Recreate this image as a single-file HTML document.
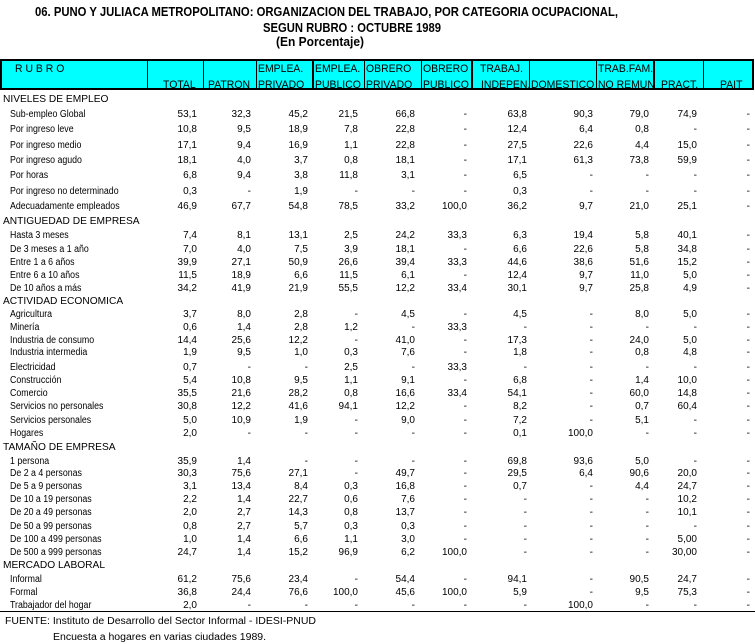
<!DOCTYPE html>
<html><head><meta charset="utf-8">
<style>
body{margin:0;background:#fff;width:755px;height:643px;position:relative;overflow:hidden;font-family:"Liberation Sans",sans-serif;color:#000}
svg.t{position:absolute;left:0;top:0}
#hd{position:absolute;left:0;top:59px;width:753px;height:31px;background:#00ffff;border-top:2px solid #000;border-bottom:2px solid #000;border-left:2px solid #000;box-sizing:border-box}
.vl{position:absolute;top:59px;height:31px;width:1px;background:#000}
.h{position:absolute;font-size:11px;line-height:12px;white-space:nowrap;transform:scaleX(.95);transform-origin:left}
.r{position:absolute;left:0;width:755px;height:12px;line-height:12px;font-size:10px}
.r b{position:absolute;top:0;left:10px;font-weight:normal;white-space:nowrap;transform:scaleX(.88);transform-origin:left}
.s{position:absolute;left:3px;font-size:10px;line-height:12px;white-space:nowrap;transform:scaleX(1.02);transform-origin:left}
.r i{position:absolute;top:0;font-style:normal;width:60px;text-align:right;font-size:10px}
.r i:nth-of-type(1){left:137px}.r i:nth-of-type(2){left:191px}.r i:nth-of-type(3){left:248px}
.r i:nth-of-type(4){left:298px}.r i:nth-of-type(5){left:355px}.r i:nth-of-type(6){left:407px}
.r i:nth-of-type(7){left:467px}.r i:nth-of-type(8){left:533px}.r i:nth-of-type(9){left:589px}
.r i:nth-of-type(10){left:637px}.r i:nth-of-type(11){left:690px}
.f{position:absolute;font-size:10px;line-height:12px;white-space:nowrap;transform:scaleX(1.05);transform-origin:left}
</style></head><body>
<svg class="t" width="755" height="56" font-family="Liberation Sans, sans-serif" font-weight="bold" font-size="13">
<text x="35" y="16" textLength="583" lengthAdjust="spacingAndGlyphs">06. PUNO Y JULIACA METROPOLITANO: ORGANIZACION DEL TRABAJO, POR CATEGORIA OCUPACIONAL,</text>
<text x="263" y="32" textLength="178" lengthAdjust="spacingAndGlyphs">SEGUN RUBRO : OCTUBRE 1989</text>
<text x="276" y="46" textLength="88" lengthAdjust="spacingAndGlyphs">(En Porcentaje)</text>
</svg>

<div id="hd"></div>
<div class="vl" style="left:147px"></div><div class="vl" style="left:203px"></div><div class="vl" style="left:256px"></div>
<div class="vl" style="left:312px;width:2px"></div><div class="vl" style="left:364px"></div><div class="vl" style="left:421px"></div>
<div class="vl" style="left:471px;width:2px"></div><div class="vl" style="left:529px"></div><div class="vl" style="left:596px"></div>
<div class="vl" style="left:653px;width:2px"></div><div class="vl" style="left:703px"></div><div class="vl" style="left:752px;width:2px"></div>

<div class="h" style="left:15px;top:63px">R U B R O</div>
<div class="h" style="left:163px;top:79px">TOTAL</div>
<div class="h" style="left:208px;top:79px">PATRON</div>
<div class="h" style="left:258px;top:63px">EMPLEA.</div><div class="h" style="left:258px;top:79px">PRIVADO</div>
<div class="h" style="left:315px;top:63px">EMPLEA.</div><div class="h" style="left:315px;top:79px">PUBLICO</div>
<div class="h" style="left:366px;top:63px">OBRERO</div><div class="h" style="left:366px;top:79px">PRIVADO</div>
<div class="h" style="left:423px;top:63px">OBRERO</div><div class="h" style="left:423px;top:79px">PUBLICO</div>
<div class="h" style="left:480px;top:63px">TRABAJ.</div><div class="h" style="left:481px;top:79px">INDEPEN.</div>
<div class="h" style="left:531px;top:79px">DOMESTICO</div>
<div class="h" style="left:598px;top:63px">TRAB.FAM.</div><div class="h" style="left:598px;top:79px">NO REMUN</div>
<div class="h" style="left:661px;top:79px">PRACT.</div>
<div class="h" style="left:720px;top:79px">PAIT</div>

<div class="s" style="top:94px">NIVELES DE EMPLEO</div>
<div class="r" style="top:109px"><b>Sub-empleo Global</b><i>53,1</i><i>32,3</i><i>45,2</i><i>21,5</i><i>66,8</i><i>-</i><i>63,8</i><i>90,3</i><i>79,0</i><i>74,9</i><i>-</i></div>
<div class="r" style="top:124px"><b>Por ingreso leve</b><i>10,8</i><i>9,5</i><i>18,9</i><i>7,8</i><i>22,8</i><i>-</i><i>12,4</i><i>6,4</i><i>0,8</i><i>-</i><i>-</i></div>
<div class="r" style="top:140px"><b>Por ingreso medio</b><i>17,1</i><i>9,4</i><i>16,9</i><i>1,1</i><i>22,8</i><i>-</i><i>27,5</i><i>22,6</i><i>4,4</i><i>15,0</i><i>-</i></div>
<div class="r" style="top:155px"><b>Por ingreso agudo</b><i>18,1</i><i>4,0</i><i>3,7</i><i>0,8</i><i>18,1</i><i>-</i><i>17,1</i><i>61,3</i><i>73,8</i><i>59,9</i><i>-</i></div>
<div class="r" style="top:170px"><b>Por horas</b><i>6,8</i><i>9,4</i><i>3,8</i><i>11,8</i><i>3,1</i><i>-</i><i>6,5</i><i>-</i><i>-</i><i>-</i><i>-</i></div>
<div class="r" style="top:186px"><b>Por ingreso no determinado</b><i>0,3</i><i>-</i><i>1,9</i><i>-</i><i>-</i><i>-</i><i>0,3</i><i>-</i><i>-</i><i>-</i><i>-</i></div>
<div class="r" style="top:201px"><b>Adecuadamente empleados</b><i>46,9</i><i>67,7</i><i>54,8</i><i>78,5</i><i>33,2</i><i>100,0</i><i>36,2</i><i>9,7</i><i>21,0</i><i>25,1</i><i>-</i></div>
<div class="s" style="top:216px">ANTIGUEDAD DE EMPRESA</div>
<div class="r" style="top:230px"><b>Hasta 3 meses</b><i>7,4</i><i>8,1</i><i>13,1</i><i>2,5</i><i>24,2</i><i>33,3</i><i>6,3</i><i>19,4</i><i>5,8</i><i>40,1</i><i>-</i></div>
<div class="r" style="top:244px"><b>De 3 meses a 1 año</b><i>7,0</i><i>4,0</i><i>7,5</i><i>3,9</i><i>18,1</i><i>-</i><i>6,6</i><i>22,6</i><i>5,8</i><i>34,8</i><i>-</i></div>
<div class="r" style="top:257px"><b>Entre 1 a 6 años</b><i>39,9</i><i>27,1</i><i>50,9</i><i>26,6</i><i>39,4</i><i>33,3</i><i>44,6</i><i>38,6</i><i>51,6</i><i>15,2</i><i>-</i></div>
<div class="r" style="top:270px"><b>Entre 6 a 10 años</b><i>11,5</i><i>18,9</i><i>6,6</i><i>11,5</i><i>6,1</i><i>-</i><i>12,4</i><i>9,7</i><i>11,0</i><i>5,0</i><i>-</i></div>
<div class="r" style="top:283px"><b>De 10 años a más</b><i>34,2</i><i>41,9</i><i>21,9</i><i>55,5</i><i>12,2</i><i>33,4</i><i>30,1</i><i>9,7</i><i>25,8</i><i>4,9</i><i>-</i></div>
<div class="s" style="top:296px">ACTIVIDAD ECONOMICA</div>
<div class="r" style="top:309px"><b>Agricultura</b><i>3,7</i><i>8,0</i><i>2,8</i><i>-</i><i>4,5</i><i>-</i><i>4,5</i><i>-</i><i>8,0</i><i>5,0</i><i>-</i></div>
<div class="r" style="top:322px"><b>Minería</b><i>0,6</i><i>1,4</i><i>2,8</i><i>1,2</i><i>-</i><i>33,3</i><i>-</i><i>-</i><i>-</i><i>-</i><i>-</i></div>
<div class="r" style="top:335px"><b>Industria de consumo</b><i>14,4</i><i>25,6</i><i>12,2</i><i>-</i><i>41,0</i><i>-</i><i>17,3</i><i>-</i><i>24,0</i><i>5,0</i><i>-</i></div>
<div class="r" style="top:347px"><b>Industria intermedia</b><i>1,9</i><i>9,5</i><i>1,0</i><i>0,3</i><i>7,6</i><i>-</i><i>1,8</i><i>-</i><i>0,8</i><i>4,8</i><i>-</i></div>
<div class="r" style="top:362px"><b>Electricidad</b><i>0,7</i><i>-</i><i>-</i><i>2,5</i><i>-</i><i>33,3</i><i>-</i><i>-</i><i>-</i><i>-</i><i>-</i></div>
<div class="r" style="top:375px"><b>Construcción</b><i>5,4</i><i>10,8</i><i>9,5</i><i>1,1</i><i>9,1</i><i>-</i><i>6,8</i><i>-</i><i>1,4</i><i>10,0</i><i>-</i></div>
<div class="r" style="top:388px"><b>Comercio</b><i>35,5</i><i>21,6</i><i>28,2</i><i>0,8</i><i>16,6</i><i>33,4</i><i>54,1</i><i>-</i><i>60,0</i><i>14,8</i><i>-</i></div>
<div class="r" style="top:401px"><b>Servicios no personales</b><i>30,8</i><i>12,2</i><i>41,6</i><i>94,1</i><i>12,2</i><i>-</i><i>8,2</i><i>-</i><i>0,7</i><i>60,4</i><i>-</i></div>
<div class="r" style="top:415px"><b>Servicios personales</b><i>5,0</i><i>10,9</i><i>1,9</i><i>-</i><i>9,0</i><i>-</i><i>7,2</i><i>-</i><i>5,1</i><i>-</i><i>-</i></div>
<div class="r" style="top:428px"><b>Hogares</b><i>2,0</i><i>-</i><i>-</i><i>-</i><i>-</i><i>-</i><i>0,1</i><i>100,0</i><i>-</i><i>-</i><i>-</i></div>
<div class="s" style="top:442px">TAMAÑO DE EMPRESA</div>
<div class="r" style="top:456px"><b>1 persona</b><i>35,9</i><i>1,4</i><i>-</i><i>-</i><i>-</i><i>-</i><i>69,8</i><i>93,6</i><i>5,0</i><i>-</i><i>-</i></div>
<div class="r" style="top:468px"><b>De 2 a 4 personas</b><i>30,3</i><i>75,6</i><i>27,1</i><i>-</i><i>49,7</i><i>-</i><i>29,5</i><i>6,4</i><i>90,6</i><i>20,0</i><i>-</i></div>
<div class="r" style="top:481px"><b>De 5 a 9 personas</b><i>3,1</i><i>13,4</i><i>8,4</i><i>0,3</i><i>16,8</i><i>-</i><i>0,7</i><i>-</i><i>4,4</i><i>24,7</i><i>-</i></div>
<div class="r" style="top:494px"><b>De 10 a 19 personas</b><i>2,2</i><i>1,4</i><i>22,7</i><i>0,6</i><i>7,6</i><i>-</i><i>-</i><i>-</i><i>-</i><i>10,2</i><i>-</i></div>
<div class="r" style="top:507px"><b>De 20 a 49 personas</b><i>2,0</i><i>2,7</i><i>14,3</i><i>0,8</i><i>13,7</i><i>-</i><i>-</i><i>-</i><i>-</i><i>10,1</i><i>-</i></div>
<div class="r" style="top:521px"><b>De 50 a 99 personas</b><i>0,8</i><i>2,7</i><i>5,7</i><i>0,3</i><i>0,3</i><i>-</i><i>-</i><i>-</i><i>-</i><i>-</i><i>-</i></div>
<div class="r" style="top:534px"><b>De 100 a 499 personas</b><i>1,0</i><i>1,4</i><i>6,6</i><i>1,1</i><i>3,0</i><i>-</i><i>-</i><i>-</i><i>-</i><i>5,00</i><i>-</i></div>
<div class="r" style="top:547px"><b>De 500 a 999 personas</b><i>24,7</i><i>1,4</i><i>15,2</i><i>96,9</i><i>6,2</i><i>100,0</i><i>-</i><i>-</i><i>-</i><i>30,00</i><i>-</i></div>
<div class="s" style="top:560px">MERCADO LABORAL</div>
<div class="r" style="top:574px"><b>Informal</b><i>61,2</i><i>75,6</i><i>23,4</i><i>-</i><i>54,4</i><i>-</i><i>94,1</i><i>-</i><i>90,5</i><i>24,7</i><i>-</i></div>
<div class="r" style="top:587px"><b>Formal</b><i>36,8</i><i>24,4</i><i>76,6</i><i>100,0</i><i>45,6</i><i>100,0</i><i>5,9</i><i>-</i><i>9,5</i><i>75,3</i><i>-</i></div>
<div class="r" style="top:600px"><b>Trabajador del hogar</b><i>2,0</i><i>-</i><i>-</i><i>-</i><i>-</i><i>-</i><i>-</i><i>100,0</i><i>-</i><i>-</i><i>-</i></div>
<div style="position:absolute;left:0;top:611px;width:755px;height:1px;background:#000"></div>
<div class="f" style="left:5px;top:616px">FUENTE: Instituto de Desarrollo del Sector Informal - IDESI-PNUD</div>
<div class="f" style="left:53px;top:632px">Encuesta a hogares en varias ciudades 1989.</div>
</body></html>
